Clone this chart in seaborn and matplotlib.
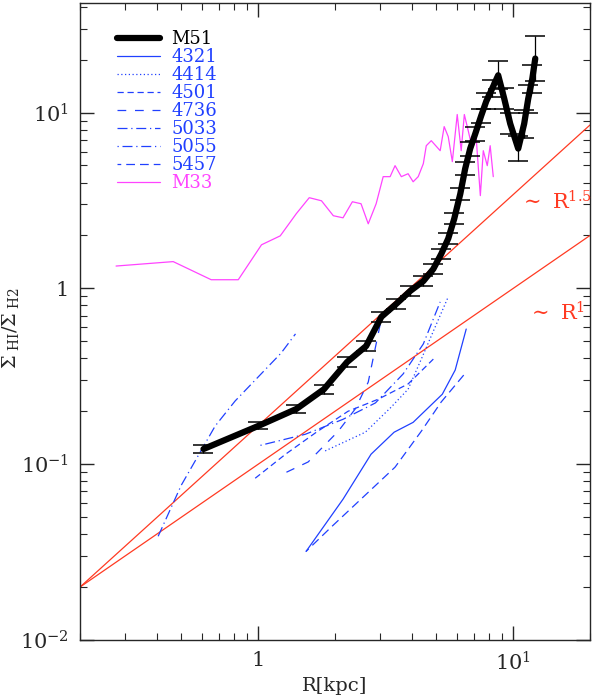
import seaborn as sns
import matplotlib
matplotlib.use("Agg")
import matplotlib.pyplot as plt
from matplotlib.ticker import FixedLocator, LogLocator, NullFormatter, FuncFormatter
import numpy as np

# M51 profile (with error bars, in dex)
m51_r = [0.61, 1.0, 1.41, 1.81, 2.23, 2.65, 3.04, 3.48, 3.95, 4.44, 4.86, 5.22, 5.56, 5.87,
         6.20, 6.48, 6.78, 7.10, 7.49, 7.84, 8.27, 8.73, 9.22, 9.73, 10.46, 11.04, 11.45, 11.88, 12.2]
m51_ratio = [0.122, 0.165, 0.206, 0.267, 0.381, 0.470, 0.689, 0.817, 0.968, 1.10, 1.29, 1.57, 1.92, 2.49,
             3.45, 4.80, 6.24, 7.59, 9.61, 11.6, 13.7, 16.3, 12.0, 8.65, 6.24, 8.65, 12.0, 15.6, 20.3]
m51_err = [0.02, 0.02, 0.025, 0.025, 0.03, 0.03, 0.03, 0.03, 0.03, 0.03, 0.03, 0.03, 0.03, 0.03,
           0.035, 0.035, 0.04, 0.04, 0.04, 0.045, 0.05, 0.08, 0.06, 0.06, 0.07, 0.08, 0.08, 0.08, 0.13]

# M33
m33_r = [0.277, 0.464, 0.654, 0.835, 1.03, 1.22, 1.41, 1.585, 1.77, 1.97, 2.15, 2.34, 2.53, 2.70,
         2.90, 3.09, 3.29, 3.44, 3.64, 3.87, 4.05, 4.24, 4.44, 4.56, 4.77, 5.17, 5.36, 5.56, 5.77,
         6.03, 6.25, 6.43, 6.66, 6.91, 7.16, 7.43, 7.63, 7.91, 8.12, 8.35]
m33_ratio = [1.34, 1.42, 1.12, 1.12, 1.77, 1.99, 2.66, 3.28, 3.15, 2.59, 2.52, 3.11, 3.03, 2.33,
             3.03, 4.32, 4.32, 4.99, 4.32, 4.49, 4.04, 4.32, 5.12, 6.48, 6.92, 6.07, 8.32, 7.30, 5.26,
             9.75, 6.07, 9.75, 7.89, 6.24, 7.11, 3.37, 6.07, 4.99, 6.48, 4.32]

# NGC galaxies
n4321_r = [1.54, 2.15, 2.77, 3.41, 4.05, 5.27, 5.92, 6.54]
n4321_ratio = [0.0319, 0.0632, 0.114, 0.152, 0.173, 0.250, 0.343, 0.587]
n4414_r = [1.83, 2.63, 3.32, 3.87, 4.36, 4.77, 5.56]
n4414_ratio = [0.119, 0.152, 0.211, 0.267, 0.396, 0.536, 0.895]
n4501_r = [0.973, 1.28, 1.69, 2.25, 2.95, 3.87, 4.86]
n4501_ratio = [0.0832, 0.114, 0.152, 0.200, 0.234, 0.286, 0.396]
n4736_r = [1.29, 1.57, 2.06, 2.40, 2.70, 3.01]
n4736_ratio = [0.090, 0.103, 0.154, 0.206, 0.293, 0.628]
n5033_r = [0.405, 0.499, 0.678, 0.812, 1.23, 1.40]
n5033_ratio = [0.0389, 0.0759, 0.165, 0.229, 0.429, 0.551]
n5055_r = [1.02, 1.53, 2.15, 2.88, 3.70, 4.44, 5.17]
n5055_ratio = [0.128, 0.148, 0.180, 0.223, 0.326, 0.483, 0.838]
n5457_r = [1.54, 1.93, 2.70, 3.44, 4.36, 5.22, 6.54]
n5457_ratio = [0.0319, 0.0438, 0.0692, 0.0962, 0.154, 0.226, 0.334]

# reference power laws
law_r = [0.2, 20]
law15_ratio = [0.02, 8.5]
law1_ratio = [0.02, 2.0]

blue = "#2040ff"
magenta = "#ff44ff"
red = "#ff3a22"

sns.set_style("ticks")
plt.rcParams["font.family"] = ["DejaVu Serif"]
plt.rcParams["mathtext.fontset"] = "dejavuserif"

fig = plt.figure(figsize=(5.92, 7.0), dpi=100)
ax = fig.add_axes([80 / 592, 60 / 700, 510 / 592, 637 / 700])

sns.lineplot(x=law_r, y=law15_ratio, ax=ax, color=red, lw=0.9, sort=False, estimator=None)
sns.lineplot(x=law_r, y=law1_ratio, ax=ax, color=red, lw=0.9, sort=False, estimator=None)

# error bars for M51 (symmetric in log)
lo = [v - v / 10 ** e for v, e in zip(m51_ratio, m51_err)]
hi = [v * 10 ** e - v for v, e in zip(m51_ratio, m51_err)]
ax.errorbar(m51_r, m51_ratio, yerr=[lo, hi], fmt="none", ecolor="black",
            elinewidth=0.9, capsize=7, capthick=1.1, zorder=4)
sns.lineplot(x=m51_r, y=m51_ratio, ax=ax, color="black", lw=4.5, sort=False,
             estimator=None, label="M51", zorder=5)

ngc = [("4321", n4321_r, n4321_ratio, "-"),
       ("4414", n4414_r, n4414_ratio, (0, (1, 2))),
       ("4501", n4501_r, n4501_ratio, (0, (5, 3))),
       ("4736", n4736_r, n4736_ratio, (0, (7, 7))),
       ("5033", n5033_r, n5033_ratio, (0, (8, 3, 1, 3))),
       ("5055", n5055_r, n5055_ratio, (0, (1, 3, 8, 3))),
       ("5457", n5457_r, n5457_ratio, (4, (7, 4)))]
for name, r, s, ls in ngc:
    sns.lineplot(x=r, y=s, ax=ax, color=blue, lw=0.9, linestyle=ls, sort=False,
                 estimator=None, label=name)

sns.lineplot(x=m33_r, y=m33_ratio, ax=ax, color=magenta, lw=0.9, sort=False,
             estimator=None, label="M33")

ax.set_xscale("log")
ax.set_yscale("log")
ax.set_xlim(0.2, 20)
ax.set_ylim(0.01, 42)

def fmt(v, pos):
    if abs(v - 1) < 1e-9:
        return "1"
    e = int(round(np.log10(v)))
    return r"$10^{%d}$" % e

ax.xaxis.set_major_locator(FixedLocator([1, 10]))
ax.xaxis.set_major_formatter(FuncFormatter(fmt))
ax.yaxis.set_major_locator(FixedLocator([0.01, 0.1, 1, 10]))
ax.yaxis.set_major_formatter(FuncFormatter(fmt))
ax.xaxis.set_minor_locator(LogLocator(base=10, subs=np.arange(2, 10)))
ax.yaxis.set_minor_locator(LogLocator(base=10, subs=np.arange(2, 10)))
ax.xaxis.set_minor_formatter(NullFormatter())
ax.yaxis.set_minor_formatter(NullFormatter())
ax.tick_params(which="both", direction="in", top=True, right=True, labelsize=15, pad=8)
ax.tick_params(which="major", length=10, width=1)
ax.tick_params(which="minor", length=5, width=0.8)
for sp in ax.spines.values():
    sp.set_linewidth(1)

ax.set_xlabel("R[kpc]", fontsize=14, labelpad=2)
ax.set_ylabel(r"$\Sigma_{\ \rm HI}/\Sigma_{\ \rm H2}$", fontsize=14)
ax.yaxis.set_label_coords(-0.115, 0.49)

ax.text(10.6, 3.1, r"$\sim$ R$^{1.5}$", color=red, fontsize=15, ha="left", va="center")
ax.text(11.4, 0.73, r"$\sim$ R$^{1}$", color=red, fontsize=15, ha="left", va="center")

leg = ax.legend(loc="upper left", bbox_to_anchor=(0.0725, 0.957), frameon=False,
                fontsize=13, handlelength=2.4, handletextpad=0.6, labelspacing=0.0,
                borderpad=0, borderaxespad=0, labelcolor="linecolor")

fig.savefig("out.png", dpi=100)
